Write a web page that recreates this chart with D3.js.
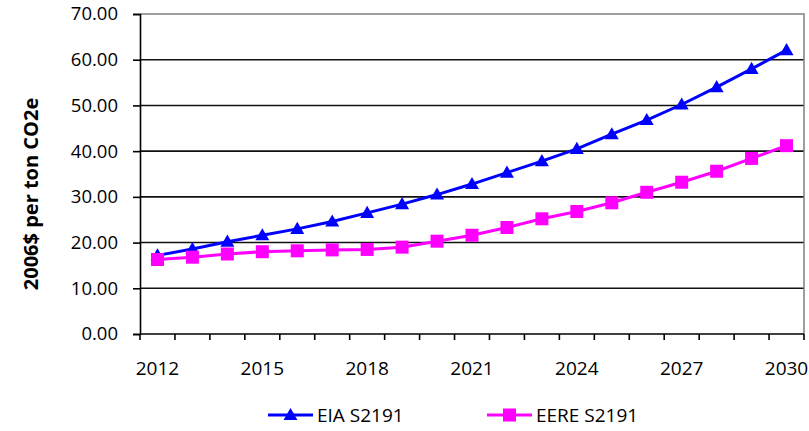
<!DOCTYPE html>
<html>
<head>
<meta charset="utf-8">
<script src="https://cdn.jsdelivr.net/npm/d3@7"></script>
<style>
  body { margin: 0; background: #fff; }
  svg text { font-family: "Open Sans", sans-serif; fill: #000; }
</style>
</head>
<body>
<svg id="chart"></svg>
<script>
const years = [2012, 2013, 2014, 2015, 2016, 2017, 2018, 2019, 2020, 2021,
               2022, 2023, 2024, 2025, 2026, 2027, 2028, 2029, 2030];
const eiaValues = [17.2, 18.6, 20.2, 21.6, 23.0, 24.6, 26.5, 28.4, 30.5, 32.8,
                   35.3, 37.8, 40.5, 43.7, 46.8, 50.2, 54.0, 58.0, 62.1];
const eereValues = [16.3, 16.8, 17.5, 18.0, 18.2, 18.4, 18.5, 19.0, 20.3, 21.6,
                    23.3, 25.2, 26.8, 28.7, 31.0, 33.2, 35.6, 38.4, 41.2];
const yTicks = [0, 10, 20, 30, 40, 50, 60, 70];
const xLabels = [2012, 2015, 2018, 2021, 2024, 2027, 2030];

const width = 809, height = 431;
const margin = { top: 14, right: 5, bottom: 97, left: 140 };
const innerW = width - margin.left - margin.right;
const innerH = height - margin.top - margin.bottom;

const svg = d3.select("#chart")
    .attr("width", width)
    .attr("height", height);

const g = svg.append("g")
    .attr("transform", `translate(${margin.left},${margin.top})`);

const x = d3.scaleBand()
    .domain(years)
    .range([0, innerW])
    .padding(0);

const y = d3.scaleLinear()
    .domain([0, 70])
    .range([innerH, 0]);

const cx = d => x(d) + x.bandwidth() / 2;

// gridlines
g.append("g")
    .selectAll("line")
    .data(yTicks.filter(d => d > 0 && d < 70))
    .join("line")
    .attr("x1", 0)
    .attr("x2", innerW)
    .attr("y1", d => y(d))
    .attr("y2", d => y(d))
    .attr("stroke", "#111")
    .attr("stroke-width", 1.6);

// plot border (top and right)
g.append("path")
    .attr("d", `M0,${y(70)}H${innerW}V${y(0)}`)
    .attr("fill", "none")
    .attr("stroke", "#808080")
    .attr("stroke-width", 1.5);

// y axis
const yAxis = g.append("g")
    .call(d3.axisLeft(y).tickValues(yTicks).tickFormat(d3.format(".2f")).tickSize(7).tickPadding(15));
yAxis.select(".domain").attr("stroke", "#000").attr("stroke-width", 1.6);
yAxis.selectAll(".tick line").attr("stroke", "#000").attr("stroke-width", 1.6);
yAxis.selectAll(".tick text")
    .style("font-family", "Open Sans, sans-serif")
    .style("font-size", "18.5px")
    .attr("fill", "#000");

// x axis
g.append("line")
    .attr("x1", 0).attr("x2", innerW)
    .attr("y1", innerH).attr("y2", innerH)
    .attr("stroke", "#000").attr("stroke-width", 1.6);

const boundaries = years.map(d => x(d)).concat([x(years[years.length - 1]) + x.bandwidth()]);
g.append("g")
    .selectAll("line")
    .data(boundaries)
    .join("line")
    .attr("x1", d => d).attr("x2", d => d)
    .attr("y1", innerH).attr("y2", innerH + 6)
    .attr("stroke", "#000").attr("stroke-width", 1.6);

g.append("g")
    .selectAll("text")
    .data(xLabels)
    .join("text")
    .attr("x", d => cx(d))
    .attr("y", innerH + 41)
    .attr("text-anchor", "middle")
    .style("font-size", "19px")
    .text(d => d);

// y title
svg.append("text")
    .attr("transform", `translate(38,194) rotate(-90)`)
    .attr("text-anchor", "middle")
    .style("font-size", "20px")
    .style("font-weight", "bold")
    .text("2006$ per ton CO2e");

// series
const series = [
    { name: "EIA S2191", values: eiaValues, color: "#0000ff", symbol: d3.symbolTriangle, size: 85 },
    { name: "EERE S2191", values: eereValues, color: "#ff00ff", symbol: d3.symbolSquare, size: 169 }
];

const line = d3.line()
    .x((d, i) => cx(years[i]))
    .y(d => y(d));

series.forEach(s => {
    g.append("path")
        .datum(s.values)
        .attr("d", line)
        .attr("fill", "none")
        .attr("stroke", s.color)
        .attr("stroke-width", 3);

    g.append("g")
        .selectAll("path")
        .data(s.values)
        .join("path")
        .attr("transform", (d, i) => `translate(${cx(years[i])},${y(d) + (s.symbol === d3.symbolTriangle ? 1 : 0)})`)
        .attr("d", d3.symbol().type(s.symbol).size(s.size))
        .attr("fill", s.color);
});

// legend
const legendX = [268, 487];
series.forEach((s, i) => {
    const lg = svg.append("g")
        .attr("transform", `translate(${legendX[i]},415)`);
    lg.append("line")
        .attr("x1", 0).attr("x2", 45)
        .attr("y1", 0).attr("y2", 0)
        .attr("stroke", s.color)
        .attr("stroke-width", 3);
    lg.append("path")
        .attr("transform", `translate(22.5,${s.symbol === d3.symbolTriangle ? 1 : 0})`)
        .attr("d", d3.symbol().type(s.symbol).size(s.size))
        .attr("fill", s.color);
    lg.append("text")
        .attr("x", 49)
        .attr("y", 0)
        .attr("dy", "0.35em")
        .style("font-size", "19px")
        .text(s.name);
});
</script>
</body>
</html>
